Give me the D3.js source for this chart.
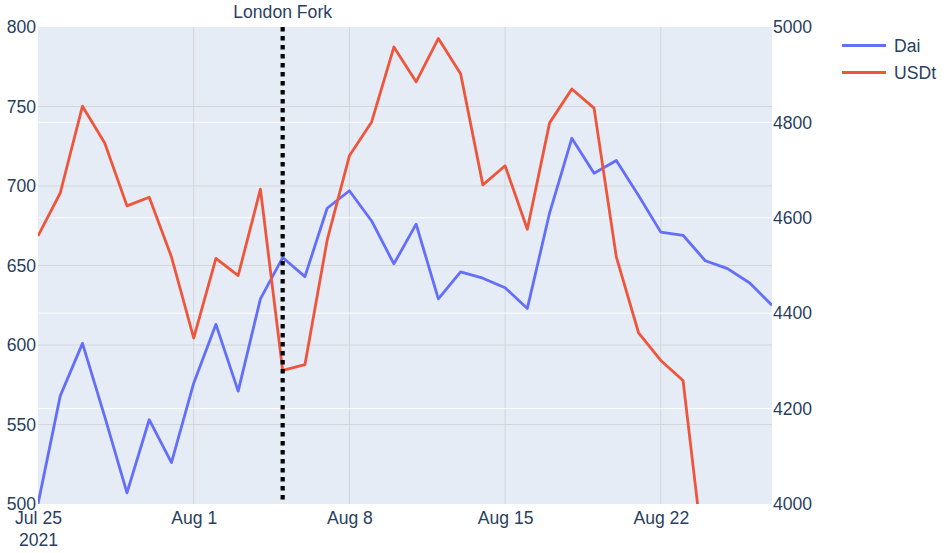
<!DOCTYPE html>
<html>
<head>
<meta charset="utf-8">
<script src="https://cdn.jsdelivr.net/npm/d3@7"></script>
<style>
  html, body { margin: 0; padding: 0; background: #fff; }
  svg { display: block; font-family: "Liberation Sans", Arial, sans-serif; }
</style>
</head>
<body>
<svg id="chart" width="946" height="553"></svg>
<script>
const dates = ["2021-07-25","2021-07-26","2021-07-27","2021-07-28","2021-07-29","2021-07-30","2021-07-31",
  "2021-08-01","2021-08-02","2021-08-03","2021-08-04","2021-08-05","2021-08-06","2021-08-07",
  "2021-08-08","2021-08-09","2021-08-10","2021-08-11","2021-08-12","2021-08-13","2021-08-14",
  "2021-08-15","2021-08-16","2021-08-17","2021-08-18","2021-08-19","2021-08-20","2021-08-21",
  "2021-08-22","2021-08-23","2021-08-24","2021-08-25","2021-08-26","2021-08-27"];
const daiValues = [500, 568, 601, 555, 507, 553, 526, 576, 613, 571, 629, 655, 643, 686, 697, 678, 651,
  676, 629, 646, 642, 636, 623, 683, 730, 708, 716, 694, 671, 669, 653, 648, 639, 625];
const usdtValues = [4562, 4652, 4834, 4757, 4625, 4643, 4518, 4348, 4515, 4479, 4660, 4280, 4292, 4553,
  4730, 4801, 4958, 4885, 4976, 4902, 4669, 4709, 4576, 4799, 4870, 4830, 4518, 4359, 4301, 4259, 3862];
const seriesNames = ["Dai", "USDt"];
const leftTicks = [500, 550, 600, 650, 700, 750, 800];
const rightTicks = [4000, 4200, 4400, 4600, 4800, 5000];
const xTickDates = ["2021-07-25", "2021-08-01", "2021-08-08", "2021-08-15", "2021-08-22"];
const eventDate = "2021-08-05";
const eventLabel = "London Fork";

const parse = d3.utcParse("%Y-%m-%d");
const svg = d3.select("#chart");
const M = { left: 38, right: 772, top: 27, bottom: 504 };
const FS = 17.6;
const FF = "Liberation Sans, Arial, sans-serif";
const textColor = "#2a3f5f";
const colors = ["#636efa", "#EF553B"];

const x = d3.scaleUtc().domain([parse(dates[0]), parse(dates[dates.length - 1])]).range([M.left, M.right]);
const yL = d3.scaleLinear().domain([500, 800]).range([M.bottom, M.top]);
const yR = d3.scaleLinear().domain([4000, 5000]).range([M.bottom, M.top]);

// background
svg.append("rect").attr("x", M.left).attr("y", M.top)
  .attr("width", M.right - M.left).attr("height", M.bottom - M.top).attr("fill", "#E5ECF6");

svg.append("clipPath").attr("id", "clip").append("rect")
  .attr("x", M.left).attr("y", M.top).attr("width", M.right - M.left).attr("height", M.bottom - M.top);

// gridlines
const grid = svg.append("g");
grid.selectAll(".gx").data(xTickDates.slice(1)).enter().append("line")
  .attr("x1", d => x(parse(d))).attr("x2", d => x(parse(d)))
  .attr("y1", M.top).attr("y2", M.bottom).attr("stroke", "#d3d5d9").attr("stroke-width", 1);
grid.selectAll(".gl").data(leftTicks.slice(1, -1)).enter().append("line")
  .attr("x1", M.left).attr("x2", M.right).attr("y1", d => yL(d)).attr("y2", d => yL(d))
  .attr("stroke", "#d3d5d9").attr("stroke-width", 1);
grid.selectAll(".gr").data(rightTicks.slice(1, -1)).enter().append("line")
  .attr("x1", M.left).attr("x2", M.right).attr("y1", d => yR(d)).attr("y2", d => yR(d))
  .attr("stroke", "#ffffff").attr("stroke-width", 1);

// lines
const plot = svg.append("g").attr("clip-path", "url(#clip)");
const lineL = d3.line().x((d, i) => x(parse(dates[i]))).y(d => yL(d));
const lineR = d3.line().x((d, i) => x(parse(dates[i]))).y(d => yR(d));
plot.append("path").datum(daiValues).attr("d", lineL).attr("fill", "none")
  .attr("stroke", colors[0]).attr("stroke-width", 2.8).attr("stroke-linejoin", "round");
plot.append("path").datum(usdtValues).attr("d", lineR).attr("fill", "none")
  .attr("stroke", colors[1]).attr("stroke-width", 2.8).attr("stroke-linejoin", "round");

// event line
const ex = x(parse(eventDate));
svg.append("line").attr("x1", ex).attr("x2", ex).attr("y1", M.top).attr("y2", M.bottom)
  .attr("stroke", "#000").attr("stroke-width", 4.2).attr("stroke-dasharray", "4.5,4.5");
svg.append("text").attr("x", ex).attr("y", 18).attr("text-anchor", "middle")
  .attr("font-size", FS).attr("fill", textColor).attr("font-family", FF).text(eventLabel);

// left axis
const axL = d3.axisLeft(yL).tickValues(leftTicks).tickSize(0).tickPadding(2);
const gL = svg.append("g").attr("transform", `translate(${M.left},0)`).call(axL);
gL.select(".domain").remove();
gL.selectAll("text").attr("font-size", FS).attr("fill", textColor).attr("font-family", FF);

// right axis
const axR = d3.axisRight(yR).tickValues(rightTicks).tickSize(0).tickPadding(1).tickFormat(d3.format("d"));
const gR = svg.append("g").attr("transform", `translate(${M.right},0)`).call(axR);
gR.select(".domain").remove();
gR.selectAll("text").attr("font-size", FS).attr("fill", textColor).attr("font-family", FF);

// x axis
const fmt = d3.utcFormat("%b %-d");
const axX = d3.axisBottom(x).tickValues(xTickDates.map(parse)).tickSize(0).tickPadding(8).tickFormat(fmt);
const gX = svg.append("g").attr("transform", `translate(0,${M.bottom})`).call(axX);
gX.select(".domain").remove();
gX.selectAll("text").attr("font-size", FS).attr("fill", textColor).attr("font-family", FF);
gX.selectAll(".tick").filter((d, i) => i === 0).append("text")
  .attr("y", 8).attr("dy", "1.95em").attr("text-anchor", "middle")
  .attr("font-size", FS).attr("fill", textColor).attr("font-family", FF)
  .text(d3.utcFormat("%Y")(parse(xTickDates[0])));

// legend
const leg = svg.append("g");
seriesNames.forEach((name, i) => {
  const ly = 45.5 + i * 27;
  leg.append("line").attr("x1", 842).attr("x2", 886).attr("y1", ly).attr("y2", ly)
    .attr("stroke", colors[i]).attr("stroke-width", 2.8);
  leg.append("text").attr("x", 894).attr("y", ly).attr("dy", "0.35em")
    .attr("font-size", FS).attr("fill", textColor).attr("font-family", FF).text(name);
});
</script>
</body>
</html>
